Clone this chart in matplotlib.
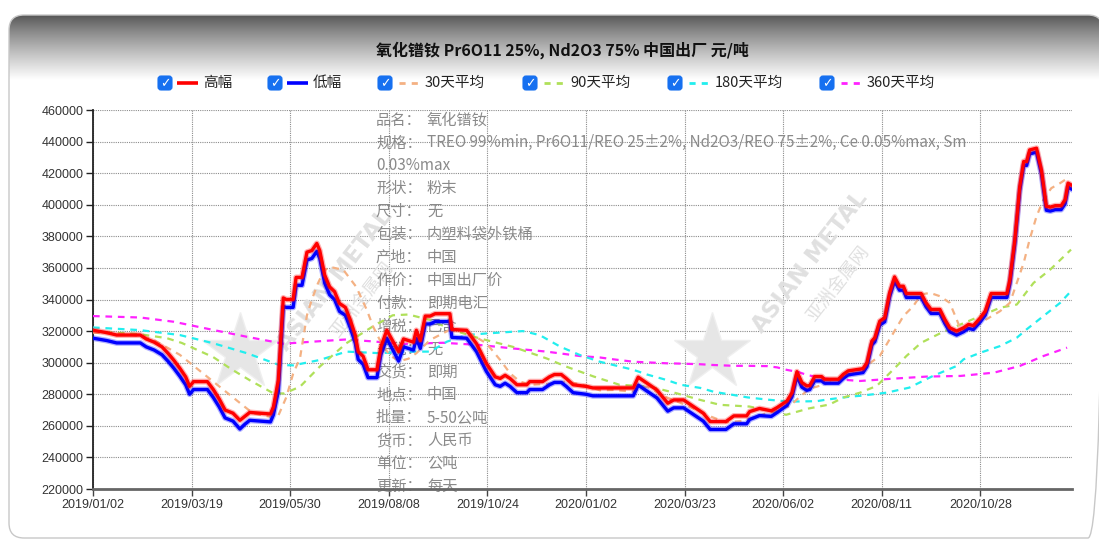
import numpy as np
import matplotlib.pyplot as plt
import matplotlib.patheffects as pe
from matplotlib.patches import FancyBboxPatch

plt.rcParams['font.family'] = ['Noto Sans CJK SC', 'DejaVu Sans']

# x axis: one point per trading day, labels every 50 points
tick_idx = [0, 50, 100, 150, 200, 250, 300, 350, 400, 450]
tick_dates = ['2019/01/02', '2019/03/19', '2019/05/30', '2019/08/08', '2019/10/24',
              '2020/01/02', '2020/03/23', '2020/06/02', '2020/08/11', '2020/10/28']
n_days = 497

# high / low price (元/吨)
hl_idx = [0, 7, 12, 24, 27, 31, 35, 38, 41, 44, 47, 49, 51, 58, 61, 64, 67, 71, 74.5, 77,
          79.5, 90, 91.5, 94, 96.5, 98, 101.5, 103, 106, 108.5, 111, 113.5, 115, 117.5, 120,
          122.5, 125, 128, 130.5, 133, 134.5, 137, 139.5, 144, 146, 149, 155, 157.5, 162.5,
          164, 166, 168.5, 171, 173.5, 181, 182, 189.5, 194.5, 199.5, 204, 206.5, 209, 211.5,
          215, 220, 221.5, 228, 231.5, 234, 237.5, 240, 243.5, 250, 253.5, 274, 276.5, 281,
          286, 291.5, 294.5, 299.5, 304.5, 309.5, 313, 321, 325, 331.5, 333, 338, 344, 347,
          352, 354.5, 357, 359.5, 362, 363.5, 366, 369.5, 371, 378, 380.5, 383, 390.5, 392.5,
          395, 396.5, 399, 401.5, 404, 406.5, 409, 411, 412.5, 420, 422.5, 425, 429.5, 432,
          434.5, 438, 441.5, 444, 446.5, 450, 452.5, 455.5, 463.5, 465, 467.5, 470, 472,
          473.5, 475, 478.5, 481, 483.5, 485.5, 488, 491, 493, 494.5, 496]
high = [320500, 319000, 317500, 317500, 315000, 313000, 310000, 306000, 301500, 296500,
        291000, 285000, 288000, 288000, 283000, 277000, 270000, 268000, 263500, 266000,
        268500, 267500, 272000, 289000, 341000, 340000, 340000, 354000, 354000, 370000,
        371000, 375500, 371000, 355500, 348000, 345000, 337500, 335000, 327000, 317500,
        307000, 304000, 295500, 295500, 310000, 320500, 307000, 315000, 313000, 320500,
        314000, 329500, 329500, 331000, 331000, 321000, 320500, 312000, 299500, 291000,
        290000, 292000, 290000, 286000, 286000, 288000, 288000, 291000, 292500, 292500,
        290000, 286000, 285000, 284000, 284000, 290800, 287000, 282700, 274300, 276400,
        276400, 272200, 268000, 262700, 262700, 266300, 266300, 269000, 271000, 269500,
        271600, 275800, 281000, 294300, 287400, 285300, 285500, 291200, 291200, 289500,
        289500, 292600, 294800, 296200, 300000, 313700, 315800, 326300, 328400, 344200,
        354300, 348400, 348400, 343800, 343800, 337900, 333700, 333700, 327400, 322100,
        320000, 322100, 324200, 323500, 328400, 332600, 343800, 343800, 352600, 377900,
        411600, 427400, 427400, 434700, 435800, 422100, 399000, 398500, 399400, 399400,
        403200, 413700, 412600]
low = [315500, 314000, 312500, 312500, 310000, 308000, 305000, 301000, 296500, 291500,
       286000, 280000, 283000, 283000, 278000, 272000, 265000, 263000, 258000, 261000,
       263500, 262500, 267000, 282000, 335500, 335000, 335000, 349000, 349000, 365000,
       366000, 370500, 366000, 350500, 343000, 340000, 332500, 330000, 322000, 312500,
       302000, 299000, 290500, 290500, 305000, 315500, 301000, 310000, 308000, 315500,
       309000, 324500, 324500, 326000, 326000, 316000, 315500, 307000, 294500, 286000,
       285000, 287000, 285000, 281000, 281000, 283000, 283000, 286000, 287500, 287500,
       285000, 281000, 280000, 279000, 279000, 285800, 282000, 277700, 269300, 271400,
       271400, 267200, 263000, 257700, 257700, 261300, 261300, 264000, 266500, 266000,
       268500, 273000, 278500, 291500, 284500, 282500, 283000, 288500, 288500, 287000,
       287000, 290000, 292300, 293700, 297500, 311200, 313300, 323800, 325900, 341700,
       351800, 345900, 345900, 341300, 341300, 335400, 331200, 331200, 324900, 319600,
       317500, 319600, 321700, 321000, 325900, 330100, 341300, 341300, 350100, 375400,
       409100, 424900, 424900, 432200, 433300, 419600, 396500, 396000, 396900, 396900,
       400700, 411200, 410100]

# moving averages
ma30_idx = [0, 10, 20, 29, 37, 44, 54, 64, 74.5, 81, 89.5, 94, 98, 101.5, 105, 108.5, 111,
            114, 117, 120, 127, 133.5, 139, 142, 146, 150.5, 155.5, 160, 164, 171, 177.5,
            182.5, 191, 199.5, 206.5, 211.5, 216.5, 222, 230, 240, 250, 257, 264, 274, 277.5,
            281, 291, 301, 313, 321, 330, 338, 347, 353.5, 358.5, 363.5, 367, 375.5, 380.5,
            384, 392, 399, 406, 411, 416, 420, 424.5, 429.5, 434.5, 438, 440, 446.5, 453,
            460, 465, 468.5, 472, 475, 478.5, 482, 486, 490.5, 493]
ma30 = [319000, 318500, 317500, 315500, 310000, 305000, 295000, 285000, 274500, 268000,
        265800, 266500, 278000, 293000, 303000, 330000, 340000, 350000, 358000, 360700,
        358700, 348000, 333000, 323000, 313000, 304500, 301000, 302500, 306000, 314400,
        318600, 321800, 318600, 312300, 301700, 293300, 288000, 286000, 286500, 288000,
        285500, 282500, 282700, 281700, 284000, 284800, 278000, 273000, 266000, 262200,
        263200, 266500, 270000, 272600, 278500, 283500, 284800, 288000, 291000, 292000,
        297900, 304200, 319000, 329500, 335800, 343200, 344200, 342100, 337900, 327400,
        321100, 322100, 327400, 332600, 337900, 350500, 363200, 377900, 392600, 403200,
        410500, 413700, 415800]
ma90_idx = [0, 12, 24, 37.5, 45, 61, 70, 80, 91.5, 97, 105, 115, 128.5, 142, 152, 160, 171,
            182.5, 196, 213, 230, 240, 254, 267, 282.5, 296, 308, 318, 333, 345, 351.5, 363,
            373.5, 380.5, 389, 397.5, 406, 412.5, 420, 429.5, 440, 450, 460, 468.5, 477,
            485.5, 496]
ma90 = [319500, 319000, 318000, 315500, 312500, 303500, 296000, 288500, 280600, 280500,
        284800, 297500, 312300, 323000, 330000, 330500, 327000, 320600, 315400, 310000,
        302700, 297500, 291200, 286000, 284800, 280600, 276400, 273300, 272200, 269000,
        267000, 271000, 273500, 277900, 281000, 285300, 295800, 304200, 312600, 318500,
        324200, 329500, 334800, 336800, 350500, 359000, 371600]
ma180_idx = [0, 24, 44, 61, 78, 94.5, 101.5, 115, 128.5, 145.5, 159, 171, 179.5, 189.5,
             199.5, 213, 218, 226.5, 237, 247, 257, 264, 274, 281, 291, 298, 308, 315, 325,
             332, 342, 350, 356, 367, 372, 384, 389, 402.5, 414, 426, 438, 441.5, 450, 460,
             468.5, 473.5, 482, 490.5, 496]
ma180 = [322300, 320600, 317500, 312300, 306000, 298500, 298300, 301700, 307000, 306000,
         307000, 307000, 313300, 317500, 318500, 319600, 320000, 317500, 310100, 304800,
         300600, 298500, 295500, 292500, 289000, 286000, 284000, 281500, 279500, 278000,
         276600, 275700, 275400, 275600, 276600, 278500, 279000, 281000, 284200, 291600,
         297900, 302100, 306300, 310500, 315800, 321100, 329500, 337900, 345300]
ma360_idx = [0, 24, 41, 61, 78, 96.5, 111.5, 128.5, 143.5, 155.5, 177.5, 196, 213, 230, 247,
             257, 264, 274, 281, 291, 298, 308, 315, 325, 332, 342, 347, 352, 358, 362, 372,
             376, 389, 406, 423, 440, 457, 470, 482, 494]
ma360 = [329500, 328600, 325900, 320700, 316400, 312000, 313300, 314700, 313300, 311800,
         312600, 311200, 309000, 307000, 304200, 303300, 302100, 300600, 300200, 299600,
         299400, 299000, 298500, 298000, 298000, 297800, 297000, 295400, 294000, 292200,
         289800, 289600, 288400, 289900, 291200, 291600, 293700, 297900, 304200, 309500]

title = '氧化镨钕 Pr6O11 25%, Nd2O3 75% 中国出厂 元/吨'
info_rows = [
    ('品名：', '氧化镨钕'),
    ('规格：', 'TREO 99%min, Pr6O11/REO 25±2%, Nd2O3/REO 75±2%, Ce 0.05%max, Sm'),
    ('0.03%max', ''),
    ('形状：', '粉末'),
    ('尺寸：', '无'),
    ('包装：', '内塑料袋外铁桶'),
    ('产地：', '中国'),
    ('作价：', '中国出厂价'),
    ('付款：', '即期电汇'),
    ('增税：', '已含'),
    ('关税：', '无'),
    ('交货：', '即期'),
    ('地点：', '中国'),
    ('批量：', '5-50公吨'),
    ('货币：', '人民币'),
    ('单位：', '公吨'),
    ('更新：', '每天'),
]

W, H = 1099, 542
fig = plt.figure(figsize=(W / 100, H / 100), dpi=100)

# background frame with grey header gradient (pixel coords)
bg = fig.add_axes([0, 0, 1, 1])
bg.set_xlim(0, W)
bg.set_ylim(H, 0)
bg.axis('off')
frame = FancyBboxPatch((9, 15), 1094, 523, boxstyle='round,pad=0,rounding_size=15',
                       fc='white', ec='none', zorder=0.5)
bg.add_patch(frame)
t = np.linspace(0, 1, 120)
grad = (0.33 + 0.67 * t ** 0.85).reshape(-1, 1)
img = bg.imshow(grad, extent=(9, 1103, 80, 15), cmap='gray', vmin=0, vmax=1,
                aspect='auto', origin='upper', interpolation='bilinear', zorder=1)
img.set_clip_path(frame)
bg.add_patch(FancyBboxPatch((9, 15), 1094, 523, boxstyle='round,pad=0,rounding_size=15',
                            fc='none', ec='#c8c8c8', lw=1, zorder=2))
bg.set_xlim(0, W)
bg.set_ylim(H, 0)

bg.text(562, 50, title, ha='center', va='center', fontsize=11.5, fontweight='bold',
        color='#111111', zorder=3)

# legend with checkboxes
legend_items = [
    (158, '高幅', '#ff0000', '-'),
    (268, '低幅', '#0000ff', '-'),
    (378, '30天平均', '#f4b183', '--'),
    (523, '90天平均', '#b0e05a', '--'),
    (668, '180天平均', '#22eeee', '--'),
    (820, '360天平均', '#ff22ff', '--'),
]
ly = 83
for x0, name, col, ls in legend_items:
    bg.add_patch(FancyBboxPatch((x0, ly - 7), 14, 14, boxstyle='round,pad=0,rounding_size=3',
                                fc='#1670f0', ec='#1670f0', lw=0.8, zorder=3))
    bg.text(x0 + 7, ly + 0.5, '✓', ha='center', va='center', color='white', fontsize=9,
            fontweight='bold', family='DejaVu Sans', zorder=4)
    if ls == '-':
        bg.plot([x0 + 19, x0 + 40], [ly, ly], color=col, lw=2.6, solid_capstyle='butt',
                zorder=3)
        tx = x0 + 45
    else:
        bg.plot([x0 + 21, x0 + 41], [ly, ly], color=col, lw=2, dashes=(2.2, 2.2), zorder=3)
        tx = x0 + 47
    bg.text(tx, ly, name, ha='left', va='center', fontsize=10.5, color='#222222', zorder=3)

# main chart
ax = fig.add_axes([93 / W, (H - 489) / H, (1072 - 93) / W, (489 - 110) / H])
ax.patch.set_visible(False)

for lx, ly_ in [(240, 352), (712, 352)]:
    ax.plot([lx], [ly_], marker='*', ms=58, color='#e6e6e6', mec='#efefef',
            transform=bg.transData, zorder=1)
for cx, cy, cx2, cy2 in [(335, 280, 362, 300), (810, 262, 838, 284)]:
    ax.text(cx, cy, 'ASIAN METAL', rotation=52, ha='center', va='center', fontsize=16.5,
            fontweight='bold', color='#e0e0e0', transform=bg.transData, zorder=1,
            family='DejaVu Sans')
    ax.text(cx2, cy2, '亚洲金属网', rotation=52, ha='center', va='center',
            fontsize=13, color='#e0e0e0', transform=bg.transData, zorder=1)

for i, (lab, val) in enumerate(info_rows):
    yy = 120 + i * 22.9
    ax.text(376, yy, lab, ha='left', va='center', fontsize=11, color='#8a8a8a',
            transform=bg.transData, zorder=1.5)
    if val:
        ax.text(427, yy, val, ha='left', va='center', fontsize=11, color='#8a8a8a',
                transform=bg.transData, zorder=1.5)

ax.plot(ma360_idx, ma360, color='#ff22ff', lw=1.6, dashes=(3, 2.6), zorder=3)
ax.plot(ma180_idx, ma180, color='#22eeee', lw=1.6, dashes=(3, 2.6), zorder=3)
ax.plot(ma90_idx, ma90, color='#b0e05a', lw=1.6, dashes=(3, 2.6), zorder=3)
ax.plot(ma30_idx, ma30, color='#f4b183', lw=1.6, dashes=(3, 2.6), zorder=3)
glow = lambda c: [pe.Stroke(linewidth=4.2, foreground=c, alpha=0.3), pe.Normal()]
ax.plot(hl_idx, low, color='#0000ff', lw=2.4, zorder=4, path_effects=glow('#0000ff'))
ax.plot(hl_idx, high, color='#ff0000', lw=2.4, zorder=5, path_effects=glow('#ff0000'))

ax.set_xlim(0, n_days - 0.5)
ax.set_ylim(220000, 460000)
ax.set_yticks(np.arange(220000, 460001, 20000))
ax.set_yticklabels([str(v) for v in range(220000, 460001, 20000)])
ax.set_xticks(tick_idx)
ax.set_xticklabels(tick_dates)
ax.grid(True, color='#8c8c8c', linestyle=(0, (1, 1)), lw=0.8, zorder=0)
ax.set_axisbelow(True)
for s in ['top', 'right']:
    ax.spines[s].set_visible(False)
ax.spines['left'].set_color('#222222')
ax.spines['left'].set_linewidth(1.3)
ax.spines['bottom'].set_color('#666666')
ax.spines['bottom'].set_linewidth(2)
ax.tick_params(axis='y', length=5, width=1, color='#222222', pad=2, labelsize=9,
               labelcolor='#333333')
ax.tick_params(axis='x', length=5, width=1, color='#444444', pad=2, labelsize=9,
               labelcolor='#333333')
for lbl in ax.get_xticklabels() + ax.get_yticklabels():
    lbl.set_fontfamily('Liberation Sans')

fig.savefig('out.png', dpi=100)
